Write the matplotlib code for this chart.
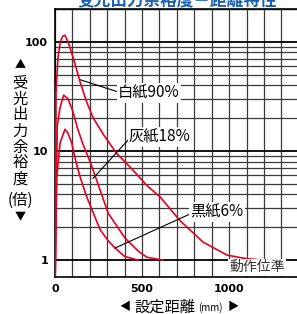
import matplotlib
matplotlib.use("Agg")
import matplotlib.pyplot as plt
from matplotlib.ticker import FixedLocator, NullFormatter

plt.rcParams['font.family'] = ['Noto Sans CJK JP', 'DejaVu Sans']

# distance (mm) vs. received light margin (x)
white_x = [1, 6, 17, 30, 45, 57, 75, 105, 144, 182, 220, 280, 354, 443, 529, 603, 718, 851, 989, 1100, 1200]
white_y = [0.7, 35, 71, 100, 113, 115, 100, 71, 43, 28, 20, 14, 9.5, 6.8, 4.8, 3.8, 2.3, 1.46, 1.11, 1.03, 1.0]

gray_x = [1, 13, 29, 50, 75, 103, 130, 161, 201, 241, 305, 402, 480, 529, 620]
gray_y = [0.7, 17, 25, 32.5, 30, 23, 16, 11.5, 8.0, 5.3, 2.7, 1.59, 1.2, 1.06, 1.0]

black_x = [1, 10, 29, 57, 75, 96, 120, 144, 182, 220, 259, 306, 345, 400, 477]
black_y = [0.7, 5.8, 11.8, 15.8, 14.5, 11.8, 8.0, 5.8, 3.8, 2.7, 1.9, 1.5, 1.29, 1.08, 1.0]

xticks = [0, 500, 1000]
yticks = [1, 10, 100]

W, H = 297, 314
fig = plt.figure(figsize=(W / 100, H / 100), dpi=100)
ax = fig.add_axes([55 / W, 37 / H, 242 / W, 268 / H])
ax.set_xlim(0, 1390)
ax.set_yscale('log')
ax.set_ylim(0.7, 200)

# grid
ax.xaxis.set_major_locator(FixedLocator(xticks))
ax.xaxis.set_minor_locator(FixedLocator(range(100, 1400, 100)))
ax.yaxis.set_major_locator(FixedLocator(yticks))
ax.yaxis.set_minor_locator(FixedLocator([m * d for d in (1, 10, 100) for m in range(2, 10)] + [200]))
ax.yaxis.set_minor_formatter(NullFormatter())
ax.grid(which='minor', color='#3a3a3a', lw=0.9)
ax.grid(which='major', axis='y', color='black', lw=1.3)
ax.grid(which='major', axis='x', color='#3a3a3a', lw=0.9)
ax.set_axisbelow(True)

ax.set_xticklabels([str(t) for t in xticks], fontsize=8, fontweight='bold', family='DejaVu Sans')
ax.set_yticklabels([str(t) for t in yticks], fontsize=8, fontweight='bold', family='DejaVu Sans')
ax.tick_params(which='both', length=0)
ax.tick_params(axis='x', pad=5)
ax.tick_params(axis='y', pad=5)
for s in ['left', 'bottom', 'top']:
    ax.spines[s].set_linewidth(1.2)
ax.spines['right'].set_visible(False)

red = '#e60020'
ax.plot(white_x, white_y, color=red, lw=1.2, zorder=3)
ax.plot(gray_x, gray_y, color=red, lw=1.2, zorder=3)
ax.plot(black_x, black_y, color=red, lw=1.2, zorder=3)

box = dict(facecolor='white', edgecolor='none', pad=1.0)
ax.plot([144, 356], [45, 35], color='black', lw=0.8, zorder=4)
ax.text(362, 34, '白紙90%', fontsize=11, ha='left', va='center', bbox=box, zorder=5)
ax.plot([218, 420], [5.6, 12.6], color='black', lw=0.8, zorder=4)
ax.text(425, 13.4, '灰紙18%', fontsize=11, ha='left', va='center', bbox=box, zorder=5)
ax.plot([345, 770], [1.29, 2.62], color='black', lw=0.8, zorder=4)
ax.text(776, 2.76, '黒紙6%', fontsize=11, ha='left', va='center', bbox=box, zorder=5)
ax.text(1161, 0.86, '動作位準', fontsize=10, color='#333333', ha='center', va='center', bbox=box, zorder=5)

# title (cut off at top)
fig.text(177 / W, 1 - 9 / H, '受光出力余裕度－距離特性', fontsize=12, fontweight='bold',
         color='#1a5fb4', ha='center', va='bottom')

# vertical y label
ychars = ['▲', '受', '光', '出', '力', '余', '裕', '度', '(倍)', '▼']
ypos = [65, 83, 99, 115, 131, 147, 163, 179, 200, 217]
for c, yp in zip(ychars, ypos):
    fs = 8 if c in '▲▼' else 11
    fig.text(20 / W, 1 - yp / H, c, fontsize=fs, ha='center', va='center')

# x label
fig.text(125 / W, 1 - 307 / H, '◀', fontsize=8, ha='center', va='center')
fig.text(165 / W, 1 - 307 / H, '設定距離', fontsize=11, ha='center', va='center')
fig.text(210 / W, 1 - 308 / H, '(mm)', fontsize=7, ha='center', va='center')
fig.text(233 / W, 1 - 307 / H, '▶', fontsize=8, ha='center', va='center')

fig.savefig('out.png', dpi=100)
